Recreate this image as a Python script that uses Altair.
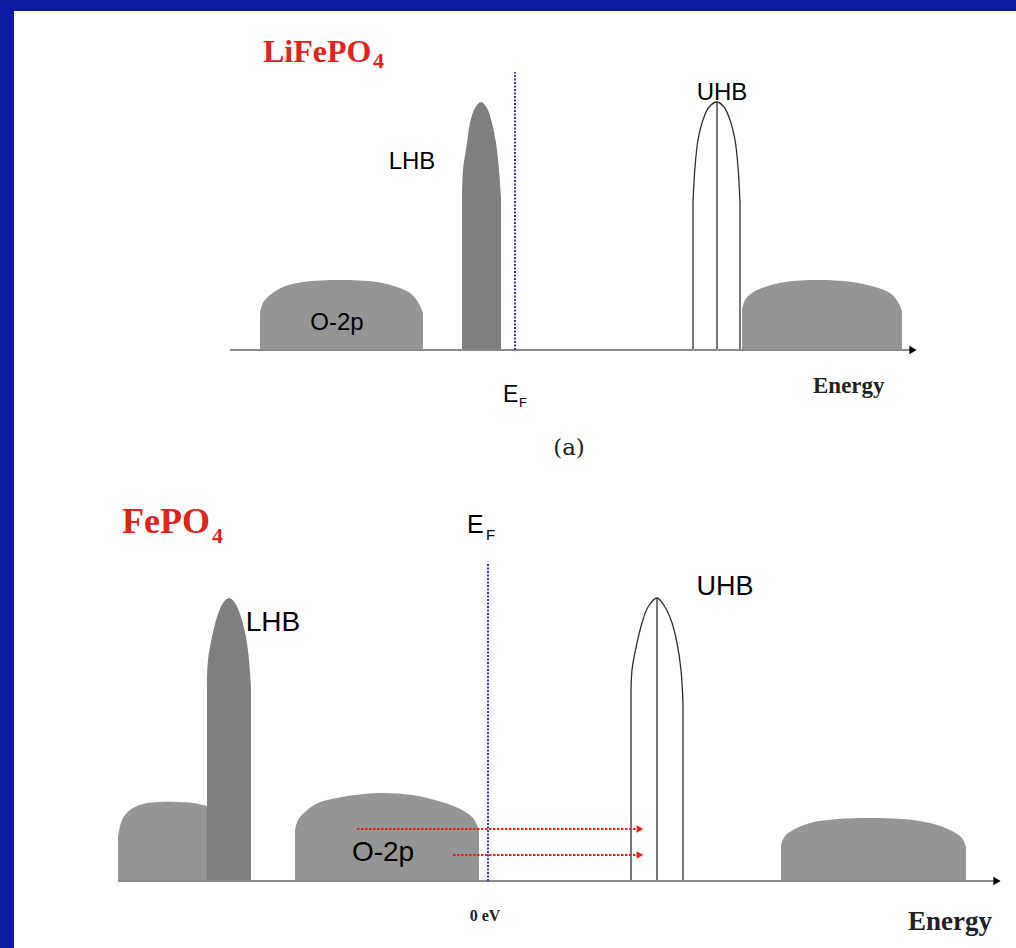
import altair as alt
import pandas as pd

# ---------------- Panel (a): LiFePO4 ----------------
# Energy E in arbitrary units (E_F = 0), density of states D in arbitrary units
A_O2P_E = [-25.5, -25.2, -24.5, -23.2, -21.2, -17.5, -13.8, -11.8, -10.5, -9.7, -9.2]
A_O2P_D = [3.7, 4.7, 5.5, 6.3, 6.8, 7.0, 6.8, 6.3, 5.7, 4.8, 3.7]
A_LHB_E = [-5.3, -5.2, -4.8, -4.5, -4.0, -3.4, -2.8, -2.3, -1.9, -1.6, -1.4]
A_LHB_D = [15.3, 18.0, 20.7, 22.7, 24.2, 24.8, 24.2, 22.7, 20.7, 18.0, 15.3]
A_UHB_E = [17.8, 18.0, 18.3, 18.8, 19.4, 20.2, 20.9, 21.5, 22.0, 22.3, 22.5]
A_UHB_D = [14.7, 18.3, 21.0, 23.0, 24.3, 24.8, 24.3, 23.0, 21.0, 18.3, 14.7]
A_UHB_CENTER = [20.2, 24.8]
A_HIGH_E = [22.7, 23.0, 23.7, 25.0, 27.0, 30.3, 33.7, 36.0, 37.5, 38.3, 38.7]
A_HIGH_D = [4.1, 5.0, 5.7, 6.3, 6.8, 7.0, 6.8, 6.3, 5.7, 4.8, 3.9]
A_AXIS = [-28.5, 39.8]
A_EF_TOP = 27.8

# ---------------- Panel (b): FePO4 ----------------
B_LOW_E = [-37.0, -36.6, -35.8, -34.5, -32.8, -31.1, -29.5, -28.1, -27.3]
B_LOW_D = [4.4, 6.1, 7.1, 7.7, 7.9, 7.9, 7.8, 7.5, 7.3]
B_LHB_E = [-28.1, -28.0, -27.6, -27.1, -26.5, -25.9, -25.3, -24.7, -24.2, -23.9, -23.7]
B_LHB_D = [19.4, 22.1, 24.4, 26.4, 27.8, 28.3, 27.8, 26.4, 24.4, 22.1, 19.4]
B_O2P_E = [-19.3, -19.0, -18.3, -17.0, -14.6, -11.0, -7.6, -4.6, -2.6, -1.5, -0.9]
B_O2P_D = [5.1, 6.1, 6.9, 7.8, 8.4, 8.8, 8.6, 7.9, 7.1, 6.3, 5.1]
B_UHB_E = [14.3, 14.4, 14.9, 15.4, 16.0, 16.9, 17.7, 18.4, 18.9, 19.3, 19.5]
B_UHB_D = [17.8, 21.1, 23.8, 25.8, 27.4, 28.3, 27.4, 25.8, 23.8, 21.1, 17.8]
B_UHB_CENTER = [16.9, 28.3]
B_HIGH_E = [29.3, 29.7, 30.5, 32.2, 34.9, 38.2, 41.5, 44.2, 46.2, 47.4, 47.8]
B_HIGH_D = [3.6, 4.5, 5.1, 5.8, 6.2, 6.3, 6.2, 5.8, 5.1, 4.3, 3.4]
B_AXIS = [-37.0, 50.9]
B_EF_TOP = 31.8
B_TRANS_START = [-13.1, -3.5]   # excitation arrows O-2p -> UHB
B_TRANS_END = [15.2, 15.2]
B_TRANS_D = [5.2, 2.6]

# ---------------- colours ----------------
RED = "#e2231a"
BLUE = "#3636ae"
FRAME = "#0a1ca6"
GRAY_BAND = "#959595"
GRAY_PEAK = "#7f7f7f"
AXIS_GRAY = "#8a8a8a"
CURVE = "catmull-rom"


def panel(xdom, ydom, shapes, uhb, uhb_center, axis, ef_top, labels, extra=None, top_band=False):
    X = lambda f="E": alt.X(f"{f}:Q", scale=alt.Scale(domain=xdom, nice=False, zero=False), axis=None)
    Y = lambda f="D": alt.Y(f"{f}:Q", scale=alt.Scale(domain=ydom, nice=False, zero=False), axis=None, stack=None)
    layers = []
    for es, ds, col in shapes:
        df = pd.DataFrame({"E": es, "D": ds})
        layers.append(
            alt.Chart(df).mark_area(color=col, interpolate=CURVE, opacity=1)
            .encode(x=X(), y=Y(), y2=alt.datum(0))
        )
    # UHB outlined band
    df = pd.DataFrame({"E": uhb[0], "D": uhb[1]})
    layers.append(
        alt.Chart(df).mark_area(fill="white", stroke="#2e2e2e", strokeWidth=1.3, interpolate=CURVE)
        .encode(x=X(), y=Y(), y2=alt.datum(0))
    )
    df = pd.DataFrame({"E": [uhb_center[0]], "D0": [0], "D1": [uhb_center[1]]})
    layers.append(
        alt.Chart(df).mark_rule(color="#2e2e2e", strokeWidth=1.3)
        .encode(x=X(), y=Y("D0"), y2="D1:Q")
    )
    # energy axis with arrow
    df = pd.DataFrame({"E0": [axis[0]], "E1": [axis[1]], "D": [0]})
    layers.append(
        alt.Chart(df).mark_rule(color=AXIS_GRAY, strokeWidth=2)
        .encode(x=X("E0"), x2="E1:Q", y=Y())
    )
    df = pd.DataFrame({"E": [axis[1]], "D": [0]})
    layers.append(
        alt.Chart(df).mark_point(shape="triangle-right", filled=True, color="black", size=70, opacity=1)
        .encode(x=X(), y=Y())
    )
    # Fermi level
    df = pd.DataFrame({"E": [0], "D0": [0], "D1": [ef_top]})
    layers.append(
        alt.Chart(df).mark_rule(color=BLUE, strokeWidth=2, strokeDash=[2, 1.5])
        .encode(x=X(), y=Y("D0"), y2="D1:Q")
    )
    if extra is not None:
        starts, ends, ds = extra
        df = pd.DataFrame({"E0": starts, "E1": ends, "D": ds})
        layers.append(
            alt.Chart(df).mark_rule(color=RED, strokeWidth=2, strokeDash=[2.5, 1.5])
            .encode(x=X("E0"), x2="E1:Q", y=Y())
        )
        layers.append(
            alt.Chart(df).mark_point(shape="triangle-right", filled=True, color=RED, size=60, opacity=1)
            .encode(x=X("E1"), y=Y())
        )
    for (txt, e, d, font, size, weight, color, align) in labels:
        df = pd.DataFrame({"E": [e], "D": [d], "t": [txt]})
        layers.append(
            alt.Chart(df).mark_text(font=font, fontSize=size, fontWeight=weight, color=color,
                                    align=align, baseline="alphabetic")
            .encode(x=X(), y=Y(), text="t:N")
        )
    one = pd.DataFrame({"k": [0]})
    layers.append(
        alt.Chart(one).mark_rect(color=FRAME)
        .encode(x=alt.value(0), x2=alt.value(14), y=alt.value(0), y2=alt.value(474))
    )
    if top_band:
        layers.append(
            alt.Chart(one).mark_rect(color=FRAME)
            .encode(x=alt.value(0), x2=alt.value(1016), y=alt.value(0), y2=alt.value(11))
        )
    return alt.layer(*layers).properties(width=1016, height=474)


SANS = "Liberation Sans"
SERIF = "Liberation Serif"

labels_a = [
    ("LiFePO", -25.2, 28.8, SERIF, 32, "bold", RED, "left"),
    ("4", -14.2, 28.2, SERIF, 22, "bold", RED, "left"),
    ("LHB", -10.3, 18.1, SANS, 24, "normal", "black", "center"),
    ("O-2p", -17.8, 2.0, SANS, 24, "normal", "black", "center"),
    ("UHB", 20.7, 25.0, SANS, 24, "normal", "black", "center"),
    ("E", -1.2, -5.2, SANS, 23, "normal", "black", "left"),
    ("F", 0.4, -5.7, SANS, 13, "normal", "black", "left"),
    ("Energy", 29.8, -4.3, SERIF, 23, "bold", "#222222", "left"),
    ("(a)", 5.4, -10.5, "DejaVu Serif", 23, "normal", "#222222", "center"),
]

labels_b = [
    ("FePO", -36.6, 34.8, SERIF, 36, "bold", RED, "left"),
    ("4", -27.6, 33.8, SERIF, 22, "bold", RED, "left"),
    ("E", -2.1, 34.8, SANS, 25, "normal", "black", "left"),
    ("F", -0.2, 34.1, SANS, 15, "normal", "black", "left"),
    ("LHB", -21.5, 25.0, SANS, 28, "normal", "black", "center"),
    ("UHB", 23.7, 28.6, SANS, 27, "normal", "black", "center"),
    ("O-2p", -10.5, 2.0, SANS, 28, "normal", "black", "center"),
    ("0 eV", -0.3, -4.0, SERIF, 16, "bold", "#222222", "center"),
    ("Energy", 42.0, -4.9, SERIF, 27, "bold", "#222222", "left"),
]

panel_a = panel(
    [-51.5, 50.1], [-12.4, 35.0],
    [(A_O2P_E, A_O2P_D, GRAY_BAND), (A_HIGH_E, A_HIGH_D, GRAY_BAND), (A_LHB_E, A_LHB_D, GRAY_PEAK)],
    (A_UHB_E, A_UHB_D), A_UHB_CENTER, A_AXIS, A_EF_TOP, labels_a, top_band=True,
)

panel_b = panel(
    [-48.8, 52.8], [-6.7, 40.7],
    [(B_LOW_E, B_LOW_D, GRAY_BAND), (B_O2P_E, B_O2P_D, GRAY_BAND), (B_HIGH_E, B_HIGH_D, GRAY_BAND),
     (B_LHB_E, B_LHB_D, GRAY_PEAK)],
    (B_UHB_E, B_UHB_D), B_UHB_CENTER, B_AXIS, B_EF_TOP, labels_b,
    extra=(B_TRANS_START, B_TRANS_END, B_TRANS_D),
)

chart = (
    alt.vconcat(panel_a, panel_b, spacing=0)
    .properties(padding=0, background="white")
    .configure_view(stroke=None)
)

chart.save("out.html", embed_options={"renderer": "svg", "actions": False})
